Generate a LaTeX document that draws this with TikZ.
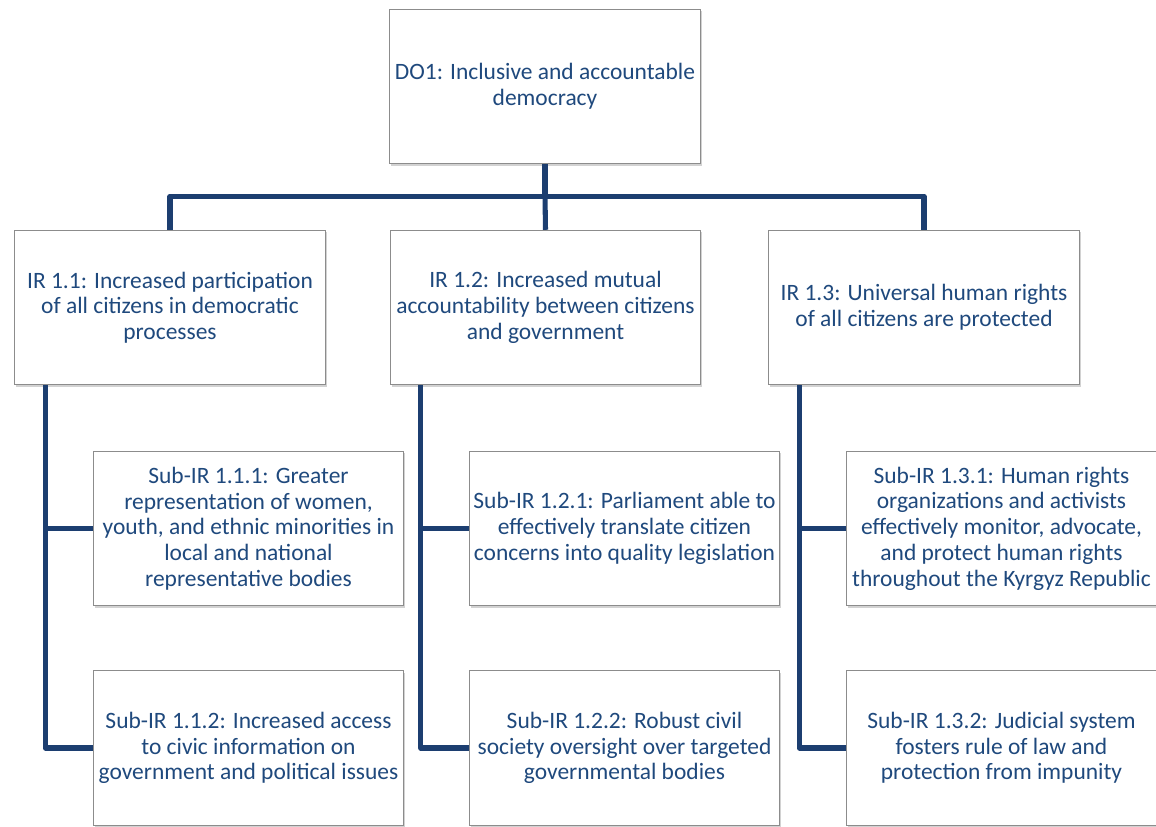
\documentclass[tikz,border=0pt]{standalone}
\usepackage{fontspec}
\setmainfont{Carlito}
\usepackage{tikz}
\usetikzlibrary{calc,shadows}
\definecolor{irtext}{RGB}{31,73,125}
\definecolor{irline}{RGB}{28,62,112}
\tikzset{
  irbox/.style={draw=black!45, line width=0.6pt, fill=white, minimum width=233pt, minimum height=116pt,
    inner sep=0pt, align=center, text=irtext, font=\fontsize{17.6}{19.3}\selectfont,
    drop shadow={shadow xshift=1.2pt, shadow yshift=-1.5pt, opacity=0.35}},
  irlink/.style={draw=irline, line width=3.8pt, line join=round}
}
\begin{document}
\begin{tikzpicture}[x=0.75pt,y=-0.75pt]
\clip (0,0) rectangle (1156,827);
\fill[white] (0,0) rectangle (1156,827);
\node[irbox] (do1) at (545,86.5) {DO1: Inclusive and accountable\\democracy};
\node[irbox] (ir11) at (170,307.5) {IR 1.1: Increased participation\\of all citizens in democratic\\processes};
\node[irbox] (ir12) at (545.5,307.5) {IR 1.2: Increased mutual\\accountability between citizens\\and government};
\node[irbox] (ir13) at (924,307.5) {IR 1.3: Universal human rights\\of all citizens are protected};
\node[irbox] (s111) at (248.5,528.5) {Sub-IR 1.1.1: Greater\\representation of women,\\youth, and ethnic minorities in\\local and national\\representative bodies};
\node[irbox] (s112) at (248.5,748) {Sub-IR 1.1.2: Increased access\\to civic information on\\government and political issues};
\node[irbox] (s121) at (624.5,528.5) {Sub-IR 1.2.1: Parliament able to\\effectively translate citizen\\concerns into quality legislation};
\node[irbox] (s122) at (624.5,748) {Sub-IR 1.2.2: Robust civil\\society oversight over targeted\\governmental bodies};
\node[irbox] (s131) at (1001.5,528.5) {Sub-IR 1.3.1: Human rights\\organizations and activists\\effectively monitor, advocate,\\and protect human rights\\throughout the Kyrgyz Republic};
\node[irbox] (s132) at (1001.5,748) {Sub-IR 1.3.2: Judicial system\\fosters rule of law and\\protection from impunity};
\draw[irlink] (do1.south) -- ++(0,32) coordinate (bus);
\draw[irlink] (bus) -| (ir11.north);
\draw[irlink] (bus) -| (ir13.north);
\draw[irlink] (bus) -- (ir12.north);
\draw[irlink] ($(ir11.south west)+(31,0)$) |- (s111.west);
\draw[irlink] ($(ir11.south west)+(31,0)$) |- (s112.west);
\draw[irlink] ($(ir12.south west)+(31,0)$) |- (s121.west);
\draw[irlink] ($(ir12.south west)+(31,0)$) |- (s122.west);
\draw[irlink] ($(ir13.south west)+(31,0)$) |- (s131.west);
\draw[irlink] ($(ir13.south west)+(31,0)$) |- (s132.west);
\end{tikzpicture}
\end{document}
